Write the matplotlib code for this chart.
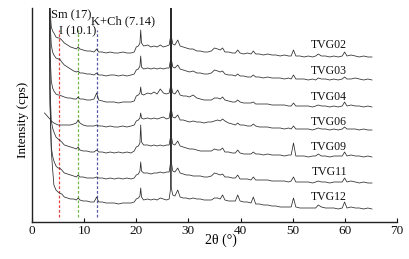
import numpy as np
import matplotlib
matplotlib.use('Agg')
import matplotlib.pyplot as plt

plt.rcParams['font.family'] = ['Liberation Serif', 'DejaVu Serif']

# 2-theta grid (degrees)
two_theta = [2.4,
    3.25, 3.45, 3.7, 3.95, 4.2, 4.6, 5.0, 5.3, 5.7, 6.2,
    6.8, 7.4, 8.0, 8.5, 8.85, 9.2, 9.8, 10.5, 11.2, 11.9,
    12.4, 12.8, 13.5, 14.2, 15.0, 15.8, 16.6, 17.4, 18.2, 19.0,
    19.6, 20.0, 20.4, 20.7, 20.85, 21.0, 21.4, 22.2, 22.8, 23.4,
    24.0, 24.6, 25.2, 25.8, 26.3, 26.63, 26.65, 26.67, 27.0, 27.4,
    27.95, 28.4, 29.0, 29.6, 30.2, 30.9, 31.6, 32.3, 33.0, 33.7,
    34.4, 35.0, 35.6, 36.1, 36.55, 37.0, 37.7, 38.4, 39.0, 39.45,
    39.9, 40.6, 41.3, 42.0, 42.45, 42.9, 43.6, 44.4, 45.2, 46.0,
    46.8, 47.6, 48.4, 49.2, 49.7, 50.15, 50.6, 51.4, 52.2, 53.0,
    53.8, 54.4, 54.9, 55.5, 56.3, 57.1, 57.9, 58.7, 59.5, 59.95,
    60.4, 61.2, 62.0, 62.8, 63.6, 64.4, 65.2]

samples = ['TVG02', 'TVG03', 'TVG04', 'TVG06', 'TVG09', 'TVG11', 'TVG12']
offsets = [165, 142, 115, 92, 65, 39, 13]
label_y = [177, 151, 125, 100, 75, 50, 25]

tvg02 = [None,
    400, 48, 30, 26, 24, 20, 19, 19, 17, 14,
    12, 10, 9, 8, 10, 8, 7, 6, 6, 5,
    8, 5, 5, 4, 5, 4, 4, 5, 4, 4,
    5, 10, 11, 14, 27, 14, 11, 12, 10, 11,
    10, 12, 10, 11, 12, 22, 400, 22, 13, 12,
    17, 11, 10, 9, 8, 8, 6, 6, 5, 5,
    6, 9, 8, 7, 9, 5, 5, 4, 4, 7,
    4, 3, 4, 3, 6, 3, 3, 2, 3, 2,
    2, 1, 2, 1, 1, 7, 1, 1, 0, 1,
    0, 1, 3, 1, 1, 0, 1, 0, 1, 5,
    1, 2, 1, 0, 1, 0, 0]
tvg03 = [None,
    400, 60, 35, 28, 25, 22, 21, 21, 18, 15,
    13, 11, 9, 8, 9, 7, 7, 6, 6, 5,
    7, 5, 5, 4, 5, 5, 4, 5, 4, 5,
    6, 10, 11, 14, 24, 13, 11, 12, 11, 12,
    11, 12, 11, 12, 12, 22, 400, 22, 13, 12,
    15, 11, 10, 9, 8, 9, 7, 7, 6, 6,
    7, 10, 9, 8, 9, 6, 5, 5, 4, 6,
    4, 4, 3, 3, 5, 3, 3, 2, 3, 2,
    2, 2, 1, 2, 1, 5, 1, 1, 1, 0,
    1, 0, 2, 1, 1, 0, 1, 0, 1, 3,
    1, 1, 2, 1, 0, 1, 0]
tvg04 = [None,
    400, 55, 26, 19, 16, 13, 12, 12, 11, 10,
    9, 9, 8, 8, 10, 8, 8, 7, 7, 8,
    14, 7, 6, 5, 5, 5, 4, 5, 5, 5,
    6, 11, 12, 14, 20, 13, 12, 14, 13, 15,
    13, 18, 14, 13, 14, 22, 400, 22, 14, 13,
    17, 12, 11, 11, 10, 12, 9, 8, 7, 7,
    7, 9, 9, 8, 10, 7, 6, 5, 5, 7,
    5, 4, 4, 4, 5, 3, 3, 3, 3, 2,
    2, 2, 2, 1, 1, 4, 1, 1, 1, 1,
    0, 1, 2, 1, 1, 0, 1, 0, 1, 5,
    1, 2, 1, 1, 0, 1, 0]
tvg06 = [17,
    12, 11, 9, 8, 7, 6, 5, 5, 5, 5,
    5, 5, 6, 7, 10, 7, 5, 4, 4, 4,
    5, 4, 4, 3, 4, 3, 3, 4, 3, 4,
    5, 9, 10, 12, 17, 12, 11, 12, 11, 12,
    11, 12, 13, 11, 12, 22, 400, 22, 13, 12,
    15, 10, 10, 9, 8, 9, 8, 8, 7, 8,
    8, 9, 10, 9, 11, 9, 7, 6, 5, 7,
    5, 5, 4, 4, 6, 4, 3, 3, 3, 2,
    2, 2, 1, 2, 1, 4, 1, 1, 1, 1,
    0, 1, 2, 1, 1, 0, 1, 0, 1, 3,
    1, 1, 1, 0, 1, 0, 0]
tvg09 = [None,
    400, 70, 36, 29, 25, 20, 18, 17, 15, 12,
    11, 10, 9, 8, 10, 7, 6, 6, 5, 5,
    7, 5, 5, 4, 5, 4, 5, 4, 5, 4,
    6, 10, 11, 14, 32, 15, 12, 12, 11, 12,
    11, 12, 11, 12, 12, 22, 400, 22, 13, 12,
    16, 11, 10, 9, 8, 8, 7, 6, 6, 6,
    6, 8, 7, 7, 9, 5, 5, 4, 4, 7,
    4, 3, 3, 3, 5, 3, 3, 2, 3, 2,
    2, 2, 1, 2, 2, 14, 1, 1, 1, 0,
    1, 1, 3, 1, 1, 0, 1, 1, 1, 5,
    1, 2, 1, 1, 0, 1, 0]
tvg11 = [None,
    400, 80, 36, 27, 22, 17, 15, 15, 13, 10,
    9, 8, 7, 6, 8, 6, 6, 5, 5, 5,
    6, 5, 5, 4, 5, 4, 5, 4, 5, 4,
    5, 8, 9, 12, 21, 12, 10, 10, 9, 10,
    10, 11, 10, 11, 11, 22, 400, 22, 12, 11,
    15, 10, 9, 8, 8, 7, 7, 7, 6, 6,
    7, 10, 9, 8, 9, 6, 6, 5, 5, 8,
    4, 4, 4, 3, 6, 3, 3, 3, 3, 2,
    2, 2, 2, 1, 2, 6, 1, 1, 1, 1,
    0, 1, 2, 1, 1, 0, 1, 1, 1, 5,
    1, 2, 1, 0, 1, 0, 0]
tvg12 = [None,
    400, 110, 58, 40, 24, 19, 17, 16, 15, 12,
    11, 10, 10, 9, 11, 9, 8, 8, 7, 7,
    12, 7, 7, 6, 6, 6, 5, 6, 6, 6,
    7, 10, 11, 13, 21, 12, 9, 10, 9, 10,
    9, 11, 10, 9, 10, 22, 400, 22, 14, 13,
    19, 12, 11, 11, 10, 11, 10, 10, 9, 9,
    9, 11, 11, 10, 14, 9, 8, 8, 8, 14,
    8, 7, 7, 6, 12, 5, 5, 4, 4, 3,
    3, 2, 2, 2, 2, 11, 2, 1, 1, 1,
    1, 1, 4, 2, 1, 1, 1, 0, 1, 7,
    1, 2, 1, 1, 0, 1, 0]

patterns = [tvg02, tvg03, tvg04, tvg06, tvg09, tvg11, tvg12]

# reference reflections (2theta of d = 17, 10.1, 7.14 angstrom)
ref_pos = [5.2, 8.75, 12.4]
ref_colors = ['#e5433c', '#72b846', '#5558a8']
ref_texts = ['Sm (17)', 'I (10.1)', 'K+Ch (7.14)']
ref_text_x = [3.7, 5.2, 11.4]
ref_text_y = [207, 191, 201]

fig = plt.figure(figsize=(4.10, 2.59), dpi=100)
ax = fig.add_axes([32/410, 1-222/259, (397-32)/410, (222-8)/259])

for p, c in zip(ref_pos, ref_colors):
    ax.plot([p, p], [5, 192], color=c, lw=0.9, linestyle=(0, (2.2, 1.6)), zorder=1)

x = np.array(two_theta, dtype=float)
for name, off, vals, ly in zip(samples, offsets, patterns, label_y):
    v = np.array([np.nan if a is None else a for a in vals], dtype=float)
    ax.plot(x, v + off, color='#2b2b2b', lw=0.55, zorder=2)
    ax.text(57, ly, name, ha='center', va='center', fontsize=8.5, color='#111111')

for t, tx, ty in zip(ref_texts, ref_text_x, ref_text_y):
    ax.text(tx, ty, t, ha='left', va='center', fontsize=9, color='#111111')

ax.set_xlim(0, 70)
ax.set_ylim(0, 214)
ax.set_xticks(range(0, 71, 10))
ax.set_yticks([])
ax.tick_params(axis='x', direction='in', length=3, width=0.8, labelsize=9.5, pad=2, colors='#111111')
for s in ['top', 'right']:
    ax.spines[s].set_visible(False)
for s in ['left', 'bottom']:
    ax.spines[s].set_linewidth(1.0)
    ax.spines[s].set_color('#222222')

fig.text(221/410, 1-240/259, '2θ (°)', ha='center', va='center', fontsize=10)
fig.text(23/410, 1-120/259, 'Intensity (cps)', ha='center', va='center', rotation=90, fontsize=9.5)

fig.savefig('out.png', dpi=100)
